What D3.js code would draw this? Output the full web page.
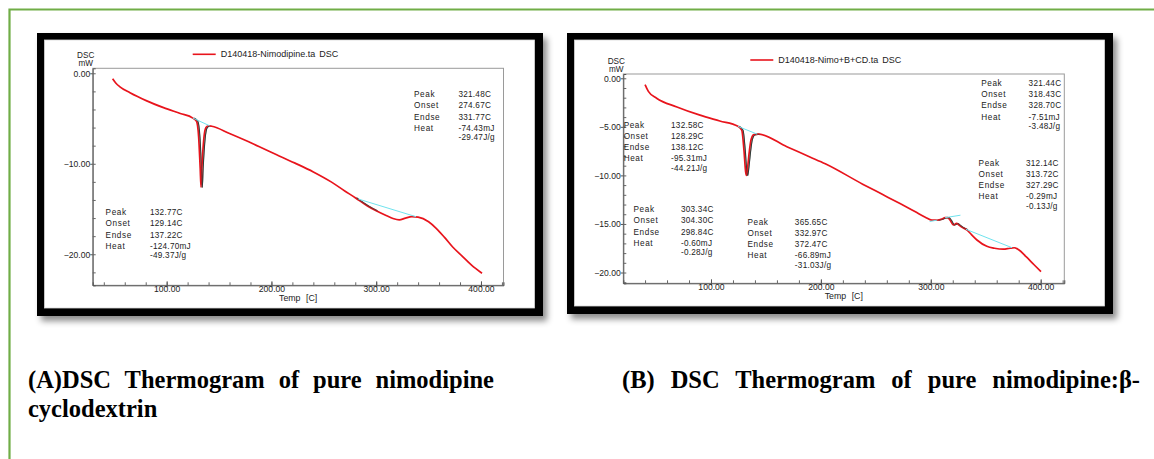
<!DOCTYPE html>
<html>
<head>
<meta charset="utf-8">
<script src="https://cdn.jsdelivr.net/npm/d3@7"></script>
<style>
  body { margin: 0; background: #fff; }
  svg { display: block; }
  .sm { font-family: Arial, "Liberation Sans", sans-serif; fill: #222; }
</style>
</head>
<body>
<svg id="page" width="1154" height="459"></svg>
<script>
// ---- data ----
const xTicks = [100, 200, 300, 400];
const yTicksA = [0, -10, -20];
const yTicksB = [0, -5, -10, -15, -20];

const tempA = [48.4, 51.6, 55.4, 65, 81, 97, 113, 125, 128.5, 130.5, 132, 132.8, 133.6, 135.5, 137.5, 140, 143,
  160, 175, 188, 205, 222, 240, 257, 270, 280, 292, 300, 310, 316, 322, 328, 334, 340, 350, 357, 365, 373, 382, 391, 401];
const dscA = [-0.6, -1.1, -1.5, -2.15, -3.05, -3.8, -4.45, -4.95, -5.3, -7.0, -10.5, -12.6, -10.5, -7.2, -6.0, -5.8, -5.85,
  -6.65, -7.4, -8.1, -9.0, -9.9, -10.9, -12.0, -13.0, -13.75, -14.7, -15.2, -15.75, -16.05, -16.2, -16.0, -15.85, -15.9,
  -16.4, -17.1, -18.1, -19.2, -20.2, -21.2, -22.1];

const tempB = [40, 43, 50.5, 69, 90, 108, 124.5, 128, 130, 131.5, 132.3, 133.3, 134.8, 136.5, 139, 143, 169, 190, 204,
  238, 255, 272, 286, 295, 301, 306, 310, 313, 315.5, 317.5, 320.5, 323.5, 326, 328.5, 332.7, 337, 342, 351, 358, 366,
  372, 376, 380, 387, 394, 400.3];
const dscB = [-0.65, -1.35, -2.05, -2.95, -3.8, -4.4, -4.95, -5.35, -7.4, -9.6, -10.0, -9.2, -7.6, -6.3, -5.8, -5.75,
  -7.05, -8.1, -8.8, -10.9, -11.9, -12.9, -13.75, -14.3, -14.6, -14.6, -14.5, -14.35, -14.35, -14.6, -15.1, -14.95,
  -15.15, -15.35, -15.6, -16.1, -16.65, -17.3, -17.5, -17.6, -17.5, -17.45, -17.65, -18.4, -19.2, -19.9];

// integration baselines (temp, mW)
const baseA = [[[125, -4.95], [141, -5.8]], [[283, -13.9], [338, -15.85]]];
const baseB = [[[124.5, -4.95], [142, -5.75]], [[299, -14.75], [306, -14.6]],
  [[313, -14.35], [327, -14.1]], [[332, -15.55], [374, -17.45]]];

const rowNames = ['Peak', 'Onset', 'Endse', 'Heat', ''];
const notesA1 = ['321.48C', '274.67C', '331.77C', '-74.43mJ', '-29.47J/g'];
const notesA2 = ['132.77C', '129.14C', '137.22C', '-124.70mJ', '-49.37J/g'];
const notesB1 = ['321.44C', '318.43C', '328.70C', '-7.51mJ', '-3.48J/g'];
const notesB2 = ['132.58C', '128.29C', '138.12C', '-95.31mJ', '-44.21J/g'];
const notesB3 = ['312.14C', '313.72C', '327.29C', '-0.29mJ', '-0.13J/g'];
const notesB4 = ['303.34C', '304.30C', '298.84C', '-0.60mJ', '-0.28J/g'];
const notesB5 = ['365.65C', '332.97C', '372.47C', '-66.89mJ', '-31.03J/g'];

const captionA = '(A)DSC Thermogram of pure nimodipine';
const captionA2 = 'cyclodextrin';
const captionB = '(B) DSC Thermogram of pure nimodipine:\u03b2-';

// ---- layout ----
const panels = [
  { key: 'A', frame: [37, 33, 543, 316], plot: [92.7, 68.3, 503.5, 285.3], xDom: [29.4, 421.5], yDom: [0.55, -23.43],
    yMinor: 2, yTicks: yTicksA, temp: tempA, dsc: dscA, base: baseA, dark: [[124, 142], [272, 300]],
    legend: 'D140418-Nimodipine.ta DSC', legendDx: 100, colDx: 44.4,
    notes: [{ vals: notesA1, at: [336.1, -2.32] }, { vals: notesA2, at: [41.7, -15.36] }] },
  { key: 'B', frame: [567, 33, 1113, 314], plot: [623.3, 74, 1064.3, 283.3], xDom: [20.2, 421.5], yDom: [0.44, -21.11],
    yMinor: 1, yTicks: yTicksB, temp: tempB, dsc: dscB, base: baseB, dark: [[123.5, 143], [305, 335]],
    legend: 'D140418-Nimo+B+CD.ta DSC', legendDx: 127, colDx: 47.4,
    notes: [{ vals: notesB1, at: [345.9, -0.51] }, { vals: notesB2, at: [20.5, -4.81] },
      { vals: notesB3, at: [343.5, -8.72] }, { vals: notesB4, at: [29.5, -13.49] },
      { vals: notesB5, at: [133.2, -14.77] }] }
];
const rowDy = [0, 11.2, 22.4, 33.5, 43.2];

const svg = d3.select('#page');

const defs = svg.append('defs');
defs.append('filter').attr('id', 'shadow')
  .attr('x', '-5%').attr('y', '-5%').attr('width', '115%').attr('height', '120%')
  .append('feDropShadow')
  .attr('dx', 4).attr('dy', 5).attr('stdDeviation', 3)
  .attr('flood-color', '#000').attr('flood-opacity', 0.45);

// green page border (top + left)
svg.append('path')
  .attr('d', 'M9.5,459 V9.5 H1154')
  .attr('fill', 'none').attr('stroke', '#70ad47').attr('stroke-width', 2.2);

panels.forEach((p) => {
  const [fx0, fy0, fx1, fy1] = p.frame;
  const [px0, py0, px1, py1] = p.plot;

  // black frame with shadow, white card inside
  svg.append('rect').attr('x', fx0).attr('y', fy0).attr('width', fx1 - fx0).attr('height', fy1 - fy0)
    .attr('fill', '#000').attr('filter', 'url(#shadow)');
  svg.append('rect').attr('x', fx0 + 7.5).attr('y', fy0 + 7).attr('width', fx1 - fx0 - 16).attr('height', fy1 - fy0 - 15)
    .attr('fill', '#fff').attr('stroke', '#d8d8d8').attr('stroke-width', 0.8);

  const x = d3.scaleLinear().domain(p.xDom).range([px0, px1]);
  const y = d3.scaleLinear().domain(p.yDom).range([py0, py1]);

  const g = svg.append('g');

  // plot box
  g.append('rect').attr('x', px0).attr('y', py0).attr('width', px1 - px0).attr('height', py1 - py0)
    .attr('fill', 'none').attr('stroke', '#9a9a9a').attr('stroke-width', 1);

  // axes
  const xMinor = d3.range(40, 421, 20);
  g.append('g').attr('transform', `translate(0,${py1})`)
    .call(d3.axisBottom(x).tickValues(xMinor).tickSize(-3).tickFormat(''))
    .call((a) => a.select('.domain').attr('stroke', '#555'))
    .call((a) => a.selectAll('.tick line').attr('stroke', '#666'));
  g.append('g').attr('transform', `translate(0,${py1})`)
    .call(d3.axisBottom(x).tickValues(xTicks).tickSize(2).tickPadding(-1).tickFormat(d3.format('.2f')))
    .call((a) => a.select('.domain').remove())
    .call((a) => a.selectAll('.tick line').attr('stroke', '#555').attr('y1', -4))
    .call((a) => a.selectAll('.tick text').attr('class', 'sm').attr('font-size', 8.6).attr('fill', '#222'));

  const yMinor = d3.range(0, p.yDom[1] - 0.001, -p.yMinor);
  g.append('g').attr('transform', `translate(${px0},0)`)
    .call(d3.axisLeft(y).tickValues(yMinor).tickSize(-3).tickFormat(''))
    .call((a) => a.select('.domain').attr('stroke', '#555'))
    .call((a) => a.selectAll('.tick line').attr('stroke', '#666'));
  g.append('g').attr('transform', `translate(${px0},0)`)
    .call(d3.axisLeft(y).tickValues(p.yTicks).tickSize(2.5).tickPadding(0).tickFormat(d3.format('.2f')))
    .call((a) => a.select('.domain').remove())
    .call((a) => a.selectAll('.tick line').attr('stroke', '#555'))
    .call((a) => a.selectAll('.tick text').attr('class', 'sm').attr('font-size', 8.6).attr('fill', '#222'));

  // axis titles
  g.append('text').attr('class', 'sm').attr('font-size', 8.2).attr('text-anchor', 'middle')
    .attr('x', px0 - 7).attr('y', py0 - 10.5).text('DSC');
  g.append('text').attr('class', 'sm').attr('font-size', 8.2).attr('text-anchor', 'middle')
    .attr('x', px0 - 7).attr('y', py0 - 2.5).text('mW');
  g.append('text').attr('class', 'sm').attr('font-size', 8.8).attr('text-anchor', 'middle')
    .attr('x', (px0 + px1) / 2).attr('y', py1 + 16).attr('word-spacing', 3).text('Temp [C]');

  // legend
  g.append('line').attr('x1', px0 + p.legendDx).attr('x2', px0 + p.legendDx + 23)
    .attr('y1', py0 - 14).attr('y2', py0 - 14).attr('stroke', '#e8141c').attr('stroke-width', 1.6);
  g.append('text').attr('class', 'sm').attr('font-size', 9).attr('x', px0 + p.legendDx + 28)
    .attr('y', py0 - 11).attr('word-spacing', 1.5).text(p.legend);

  // curve
  const pts = p.temp.map((t, i) => [t, p.dsc[i]]);
  const line = d3.line().x((d) => x(d[0])).y((d) => y(d[1])).curve(d3.curveMonotoneX);

  p.dark.forEach(([t0, t1]) => {
    g.append('path').datum(pts.filter((d) => d[0] >= t0 && d[0] <= t1))
      .attr('d', line).attr('fill', 'none').attr('stroke', '#2e3b36').attr('stroke-width', 1.1)
      .attr('transform', 'translate(1.3,0)');
  });

  g.append('path').datum(pts).attr('d', line)
    .attr('fill', 'none').attr('stroke', '#e8141c').attr('stroke-width', 1.7)
    .attr('stroke-linejoin', 'round');

  p.dark.forEach(([t0, t1]) => {
    g.append('path').datum(pts.filter((d) => d[0] >= t0 && d[0] <= t1))
      .attr('d', line).attr('fill', 'none').attr('stroke', '#3a3f3c').attr('stroke-width', 0.8)
      .attr('stroke-opacity', 0.7).attr('transform', 'translate(1.2,0.3)');
  });

  g.selectAll('.base').data(p.base).enter().append('path')
    .attr('d', d3.line().x((d) => x(d[0])).y((d) => y(d[1])))
    .attr('fill', 'none').attr('stroke', '#6fe3ee').attr('stroke-width', 1);

  // peak tables
  p.notes.forEach((n) => {
    const tg = g.append('g').attr('transform', `translate(${x(n.at[0])},${y(n.at[1])})`);
    rowNames.forEach((r, i) => {
      tg.append('text').attr('class', 'sm').attr('font-size', 8.2).attr('letter-spacing', 0.6)
        .attr('y', rowDy[i]).attr('dy', '0.35em').text(r);
      tg.append('text').attr('class', 'sm').attr('font-size', 8.2).attr('letter-spacing', 0.25)
        .attr('x', p.colDx).attr('y', rowDy[i]).attr('dy', '0.35em').text(n.vals[i]);
    });
  });
});

// captions, justified like the source document
function caption(str, x0, x1, yb) {
  const t = svg.append('text')
    .attr('x', x0).attr('y', yb)
    .attr('font-family', '"Times New Roman", "Liberation Serif", serif')
    .attr('font-weight', 'bold').attr('font-size', 24.5).attr('fill', '#000')
    .text(str);
  if (x1) {
    const w = t.node().getComputedTextLength();
    const gaps = str.split(' ').length - 1;
    if (gaps > 0) t.attr('word-spacing', Math.max(0, (x1 - x0 - w) / gaps));
  }
}
caption(captionA, 28, 494, 388);
caption(captionA2, 28, null, 417);
caption(captionB, 622, 1140, 388);
</script>
</body>
</html>
